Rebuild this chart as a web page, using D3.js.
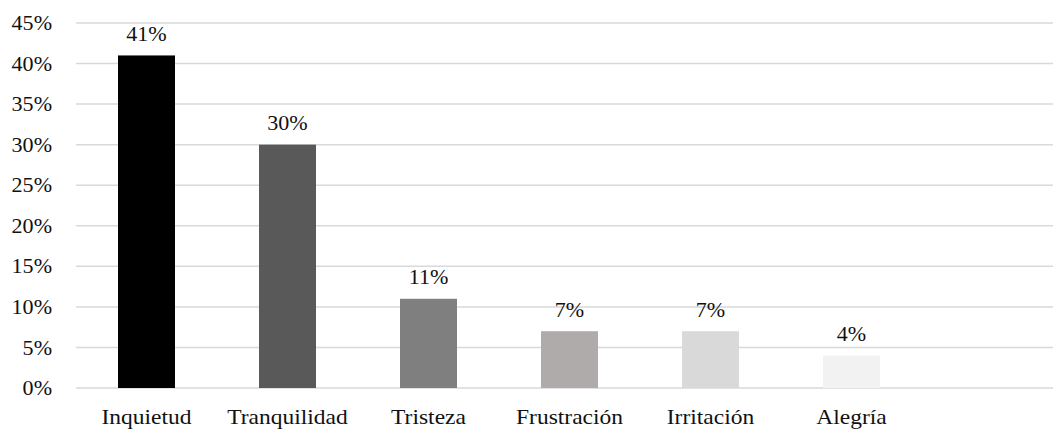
<!DOCTYPE html>
<html>
<head>
<meta charset="utf-8">
<script src="https://cdn.jsdelivr.net/npm/d3@7"></script>
<style>
  html, body { margin: 0; padding: 0; background: #fff; }
  svg { display: block; }
</style>
</head>
<body>
<svg id="chart" width="1053" height="429"></svg>
<script>
// Emotions reported, share of respondents
const categories = ["Inquietud", "Tranquilidad", "Tristeza", "Frustración", "Irritación", "Alegría"];
const values = [41, 30, 11, 7, 7, 4];
const barColors = ["#000000", "#595959", "#7f7f7f", "#afabab", "#d9d9d9", "#f2f2f2"];
const yTicks = [0, 5, 10, 15, 20, 25, 30, 35, 40, 45];

const W = 1053;
const plotLeft = 76, plotTop = 23, plotBottom = 388;
const step = 141;
const font = "Liberation Serif";
const fontSize = 21;
const numStretch = 1.05; // horizontal stretch for numeric labels
const catStretch = 1.12; // horizontal stretch for category labels
const textColor = "#111111";

const svg = d3.select("#chart");

const x = d3.scaleBand()
  .domain(categories)
  .range([plotLeft, plotLeft + step * categories.length])
  .paddingInner(1 - 57 / step)
  .paddingOuter((1 - 57 / step) / 2);

const y = d3.scaleLinear().domain([0, 45]).range([plotBottom, plotTop]);

// horizontal gridlines
svg.append("g").selectAll("line")
  .data(yTicks)
  .join("line")
  .attr("x1", plotLeft).attr("x2", W)
  .attr("y1", d => y(d)).attr("y2", d => y(d))
  .attr("stroke", "#d9d9d9")
  .attr("stroke-width", 1.5);

// y tick labels
svg.append("g").selectAll("text")
  .data(yTicks)
  .join("text")
  .attr("transform", d => `translate(52,${y(d)}) scale(${numStretch},1)`)
  .attr("dy", "0.34em")
  .attr("text-anchor", "end")
  .attr("font-family", font)
  .attr("font-size", fontSize)
  .attr("fill", textColor)
  .text(d => d + "%");

// bars
svg.append("g").selectAll("rect")
  .data(values)
  .join("rect")
  .attr("x", (d, i) => x(categories[i]))
  .attr("width", x.bandwidth())
  .attr("y", d => y(d))
  .attr("height", d => y(0) - y(d))
  .attr("fill", (d, i) => barColors[i]);

// value labels
svg.append("g").selectAll("text")
  .data(values)
  .join("text")
  .attr("transform", (d, i) => `translate(${x(categories[i]) + x.bandwidth() / 2},${y(d) - 14.5}) scale(${numStretch},1)`)
  .attr("text-anchor", "middle")
  .attr("font-family", font)
  .attr("font-size", fontSize)
  .attr("fill", textColor)
  .text(d => d + "%");

// category labels
svg.append("g").selectAll("text")
  .data(categories)
  .join("text")
  .attr("transform", d => `translate(${x(d) + x.bandwidth() / 2},424) scale(${catStretch},1)`)
  .attr("text-anchor", "middle")
  .attr("font-family", font)
  .attr("font-size", fontSize)
  .attr("fill", textColor)
  .text(d => d);
</script>
</body>
</html>
